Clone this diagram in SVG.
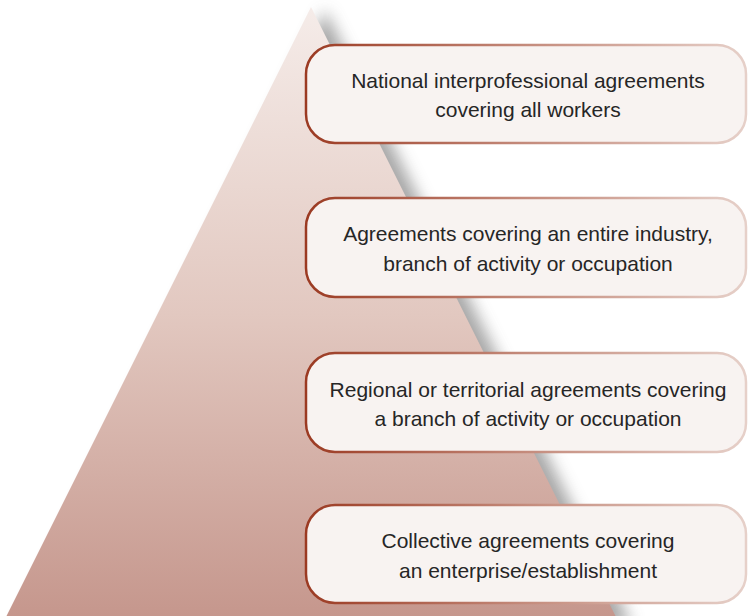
<svg xmlns="http://www.w3.org/2000/svg" width="748" height="616" viewBox="0 0 748 616">
  <defs>
    <linearGradient id="pyr" x1="0" y1="0" x2="0" y2="1">
      <stop offset="0" stop-color="#f5ece9"/>
      <stop offset="0.5" stop-color="#e2c8c0"/>
      <stop offset="1" stop-color="#c5968c"/>
    </linearGradient>
    <linearGradient id="edge" x1="0" y1="0" x2="1" y2="0">
      <stop offset="0" stop-color="#9b3a22"/>
      <stop offset="0.5" stop-color="#c48b7c"/>
      <stop offset="1" stop-color="#e6d0c9"/>
    </linearGradient>
    <filter id="shadow" x="-20%" y="-10%" width="140%" height="120%">
      <feGaussianBlur stdDeviation="8"/>
    </filter>
  </defs>
  <style>
    .box { fill: #f8f3f1; stroke: url(#edge); stroke-width: 2.5; }
    .lbl { font-family: "Liberation Sans", Arial, sans-serif; font-size: 21px; fill: #262626; text-anchor: middle; }
  </style>
  <rect width="748" height="616" fill="#ffffff"/>
  <g id="pyramid">
    <polygon points="325,10 20,626 632,626" fill="#8a8a8a" opacity="0.75" filter="url(#shadow)"/>
    <polygon points="311,7 4,621 618,621" fill="url(#pyr)"/>
  </g>
  <g id="connectors"/>
  <g id="level1">
    <rect class="box" x="306" y="45" width="440" height="98" rx="29"/>
    <text class="lbl" x="528" y="88">National interprofessional agreements</text>
    <text class="lbl" x="528" y="117">covering all workers</text>
  </g>
  <g id="level2">
    <rect class="box" x="306" y="198" width="440" height="99" rx="29"/>
    <text class="lbl" x="528" y="241">Agreements covering an entire industry,</text>
    <text class="lbl" x="528" y="271">branch of activity or occupation</text>
  </g>
  <g id="level3">
    <rect class="box" x="306" y="353" width="440" height="99" rx="29"/>
    <text class="lbl" x="528" y="397">Regional or territorial agreements covering</text>
    <text class="lbl" x="528" y="426">a branch of activity or occupation</text>
  </g>
  <g id="level4">
    <rect class="box" x="306" y="505" width="440" height="98" rx="29"/>
    <text class="lbl" x="528" y="548">Collective agreements covering</text>
    <text class="lbl" x="528" y="578">an enterprise/establishment</text>
  </g>
</svg>
